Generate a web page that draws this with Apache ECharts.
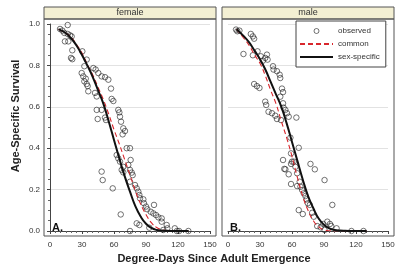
<!DOCTYPE html>
<html>
<head>
<meta charset="utf-8">
<script src="https://cdn.jsdelivr.net/npm/echarts@6/dist/echarts.min.js"></script>
<style>
html, body { margin: 0; padding: 0; background: #fff; }
#main { width: 407px; height: 269px; }
</style>
</head>
<body>
<div id="main"></div>
<script>
// panel titles and x tick labels
var panels = ['female', 'male'];
var xTicks = [0, 30, 60, 90, 120, 150];

// fitted curves at these degree-days
var curveX = [8, 15, 20, 25, 30, 35, 40, 45, 50, 55, 60, 65, 70, 75, 80, 85, 90, 95, 100, 105, 110, 120, 130];
var femaleCommon   = [0.975, 0.955, 0.935, 0.9, 0.86, 0.805, 0.755, 0.695, 0.635, 0.565, 0.49, 0.42, 0.345, 0.27, 0.195, 0.13, 0.08, 0.04, 0.017, 0.006, 0.002, 0, 0];
var femaleSpecific = [0.975, 0.955, 0.93, 0.895, 0.85, 0.8, 0.745, 0.68, 0.615, 0.53, 0.44, 0.35, 0.265, 0.19, 0.12, 0.07, 0.035, 0.015, 0.005, 0.002, 0.001, 0, 0];
var maleCommon     = [0.975, 0.93, 0.895, 0.85, 0.81, 0.75, 0.68, 0.615, 0.53, 0.45, 0.36, 0.26, 0.17, 0.1, 0.05, 0.02, 0.006, 0.001, 0, 0, 0, 0, 0];
var maleSpecific   = [0.975, 0.94, 0.91, 0.87, 0.83, 0.78, 0.72, 0.66, 0.6, 0.52, 0.43, 0.34, 0.25, 0.17, 0.11, 0.06, 0.03, 0.013, 0.005, 0.002, 0.001, 0, 0];

// observed survival [degree-days, survival]
var femaleObserved = [
  [16.6,0.995],[9.4,0.976],[11.6,0.968],[13.4,0.957],[16.6,0.952],[18.8,0.945],[20.3,0.94],
  [14,0.916],[17.2,0.916],[20.9,0.873],[19.7,0.836],[20.9,0.83],[30.3,0.868],[34.4,0.828],
  [32.2,0.796],[29.7,0.763],[31.2,0.747],[33.5,0.736],[32.2,0.723],[34.4,0.71],[35.3,0.7],
  [40.6,0.787],[42.8,0.78],[45.3,0.763],[48.4,0.747],[51.6,0.743],[54.7,0.731],[57.2,0.688],
  [35.9,0.675],[42.2,0.667],[43.8,0.65],[57.8,0.638],[59.4,0.628],[64,0.585],[65,0.573],
  [65.6,0.552],[66.6,0.528],[68.7,0.496],[70.3,0.483],[68.1,0.467],[43.8,0.585],[48.4,0.585],
  [44.7,0.541],[51.6,0.548],[52.5,0.536],[71.9,0.4],[75,0.4],[62.5,0.367],[64,0.351],
  [65.6,0.335],[67.2,0.295],[68.7,0.283],[48.4,0.287],[49.4,0.246],[58.8,0.206],[66.3,0.08],
  [75,0],[68.7,0.31],[73.4,0.319],[75,0.295],[76.6,0.282],[77.5,0.27],[75.6,0.343],
  [75,0.238],[79.7,0.222],[81.3,0.206],[82.8,0.19],[83.8,0.174],[84.4,0.158],[87.5,0.153],
  [88.1,0.134],[90,0.118],[91.2,0.105],[94.4,0.093],[97.5,0.126],[96.9,0.085],[99.4,0.077],
  [101.6,0.066],[104.7,0.061],[104.7,0.045],[81.3,0.037],[83.8,0.029],[93.1,0.016],
  [109.4,0.029],[110,0.013],[106.2,0.005],[117,0.013],[119,0],[121,0],[129.7,0]
];
var maleObserved = [
  [7.5,0.973],[8.8,0.965],[10.7,0.968],[21.4,0.952],[23.3,0.94],[24.5,0.929],[14.5,0.855],
  [23.3,0.849],[27.7,0.868],[30.8,0.844],[32.7,0.823],[36.5,0.852],[34.9,0.836],[37.1,0.828],
  [42.2,0.796],[42.7,0.78],[45.9,0.772],[48.4,0.755],[49,0.739],[24.5,0.71],[27.1,0.7],
  [29.5,0.691],[50.6,0.688],[51.6,0.671],[49,0.649],[51.6,0.617],[52.1,0.596],[53.8,0.585],
  [55.3,0.569],[56.9,0.552],[64.1,0.548],[34.9,0.625],[35.8,0.609],[38,0.576],[41.2,0.569],
  [44.3,0.557],[45.9,0.541],[49.7,0.536],[58.5,0.451],[66.3,0.402],[59.1,0.375],[51.6,0.343],
  [60,0.335],[52.8,0.3],[63.2,0.31],[56.9,0.274],[53.8,0.298],[59.1,0.324],[61.6,0.335],
  [64.8,0.279],[59.1,0.227],[64.8,0.217],[67.2,0.238],[67.9,0.214],[69.5,0.198],[71,0.182],
  [72.6,0.169],[73.6,0.153],[74.8,0.134],[76.7,0.126],[77.3,0.324],[81.4,0.298],[90.5,0.246],
  [97.8,0.126],[66.3,0.101],[70.1,0.082],[78.9,0.088],[80.4,0.069],[83.6,0.024],[86.8,0.018],
  [90.5,0.005],[89.3,0.034],[93.1,0.045],[95.6,0.034],[96.8,0.024],[101.8,0.013],[115.7,0],[127,0]
];

function pairs(xs, ys) {
  return xs.map(function (x, i) { return [x, ys[i]]; });
}

var chart = echarts.init(document.getElementById('main'));
var font = 'Liberation Sans, Arial, sans-serif';

var grids = [
  { left: 50, right: 197, top: 24, bottom: 38 },
  { left: 228, right: 19, top: 24, bottom: 38 }
];
// outer boxes of each panel (a little wider than the 0..150 / 0..1 data area)
var boxes = [
  { x: 44, y: 19, w: 172, h: 217 },
  { x: 222, y: 19, w: 172, h: 217 }
];

var xAxes = [0, 1].map(function (i) {
  return {
    gridIndex: i, type: 'value', min: 0, max: 150, interval: 30, offset: 5,
    axisLine: { show: true, lineStyle: { color: '#444', width: 1 } },
    axisTick: { show: true, length: 3, inside: false, lineStyle: { color: '#444' } },
    minorTick: { show: true, splitNumber: 6, length: 2, lineStyle: { color: '#666' } },
    axisLabel: { color: '#333', fontSize: 8, fontFamily: font, margin: 5 },
    splitLine: { show: false }
  };
});
var yAxes = [0, 1].map(function (i) {
  return {
    gridIndex: i, type: 'value', min: 0, max: 1, interval: 0.2, offset: 6,
    axisLine: { show: i === 0, lineStyle: { color: '#444', width: 1 } },
    axisTick: { show: i === 0, length: 3, lineStyle: { color: '#444' } },
    minorTick: { show: i === 0, splitNumber: 4, length: 2, lineStyle: { color: '#666' } },
    axisLabel: {
      show: i === 0, color: '#333', fontSize: 8, fontFamily: font, margin: 4,
      formatter: function (v) { return v.toFixed(1); }
    },
    splitLine: { show: true, lineStyle: { color: '#e2e2e2', width: 1 } }
  };
});

var series = [];
var obs = [femaleObserved, maleObserved];
var common = [femaleCommon, maleCommon];
var specific = [femaleSpecific, maleSpecific];
[0, 1].forEach(function (i) {
  series.push({
    name: 'observed', type: 'scatter', xAxisIndex: i, yAxisIndex: i,
    data: obs[i], symbol: 'circle', symbolSize: 5.5, clip: false,
    itemStyle: { color: 'rgba(255,255,255,0)', borderColor: '#222', borderWidth: 0.8 },
    z: 2
  });
  series.push({
    name: 'common', type: 'line', xAxisIndex: i, yAxisIndex: i,
    data: pairs(curveX, common[i]), showSymbol: false, symbol: 'none', smooth: true,
    lineStyle: { color: '#d8262c', width: 1.1, type: [5, 3] },
    itemStyle: { color: '#d8262c' },
    z: 3
  });
  series.push({
    name: 'sex-specific', type: 'line', xAxisIndex: i, yAxisIndex: i,
    data: pairs(curveX, specific[i]), showSymbol: false, symbol: 'none', smooth: true,
    lineStyle: { color: '#111', width: 2 },
    itemStyle: { color: '#111' },
    z: 4
  });
});

var graphics = [];
boxes.forEach(function (b, i) {
  // strip on top
  graphics.push({
    type: 'rect', shape: { x: b.x, y: b.y - 12, width: b.w, height: 12 },
    style: { fill: '#f3efd3', stroke: '#555', lineWidth: 1 }, z: 90
  });
  graphics.push({
    type: 'text', x: b.x + b.w / 2, y: b.y - 6,
    style: { text: panels[i], fill: '#333', font: '9px ' + font, align: 'center', verticalAlign: 'middle' },
    z: 91
  });
  // panel border
  graphics.push({
    type: 'rect', shape: { x: b.x, y: b.y, width: b.w, height: b.h },
    style: { fill: null, stroke: '#555', lineWidth: 1 }, z: 90
  });
  graphics.push({
    type: 'text', x: b.x + 8, y: b.y + b.h - 8,
    style: { text: i === 0 ? 'A.' : 'B.', fill: '#111', font: 'bold 11px ' + font, align: 'left', verticalAlign: 'middle' },
    z: 91
  });
});
graphics.push({
  type: 'text', x: 16, y: 116, rotation: Math.PI / 2,
  style: { text: 'Age-Specific Survival', fill: '#222', font: 'bold 11px ' + font, align: 'center', verticalAlign: 'middle' }
});
graphics.push({
  type: 'text', x: 214, y: 259,
  style: { text: 'Degree-Days Since Adult Emergence', fill: '#222', font: 'bold 11px ' + font, align: 'center', verticalAlign: 'middle' }
});

var option = {
  animation: false,
  backgroundColor: '#fff',
  grid: grids,
  xAxis: xAxes,
  yAxis: yAxes,
  legend: {
    data: [
      { name: 'observed', icon: 'circle', itemStyle: { color: 'rgba(255,255,255,0)', borderColor: '#222', borderWidth: 0.8 } },
      { name: 'common', itemStyle: { opacity: 0 } },
      { name: 'sex-specific', itemStyle: { opacity: 0 } }
    ],
    orient: 'vertical', left: 296, top: 21,
    itemWidth: 33, itemHeight: 5, itemGap: 5,
    padding: [6, 6, 6, 3],
    backgroundColor: '#fff', borderColor: '#444', borderWidth: 1,
    textStyle: { fontSize: 8, color: '#333', fontFamily: font },
    selectedMode: false
  },
  series: series,
  graphic: graphics
};
chart.setOption(option);
</script>
</body>
</html>
